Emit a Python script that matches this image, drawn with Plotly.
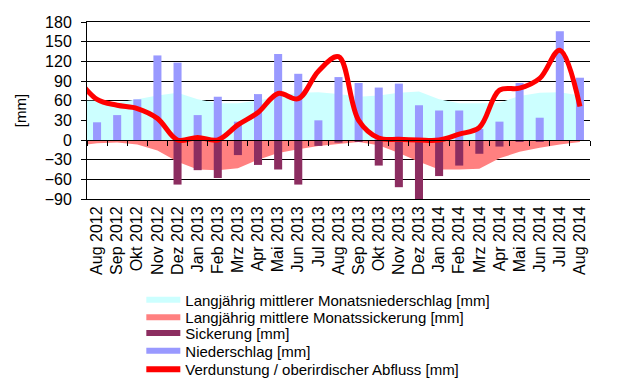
import plotly.graph_objects as go

months = ["Aug 2012", "Sep 2012", "Okt 2012", "Nov 2012", "Dez 2012", "Jan 2013",
          "Feb 2013", "Mrz 2013", "Apr 2013", "Mai 2013", "Jun 2013", "Jul 2013",
          "Aug 2013", "Sep 2013", "Okt 2013", "Nov 2013", "Dez 2013", "Jan 2014",
          "Feb 2014", "Mrz 2014", "Apr 2014", "Mai 2014", "Jun 2014", "Jul 2014",
          "Aug 2014"]

niederschlag = [27, 38, 62, 129, 118, 38, 66, 28, 70, 131, 101, 30, 96,
                87, 80, 86, 53, 45, 45, 17, 28, 87, 34, 166, 95]
sickerung = [0, 0, 0, 0, -68, -46, -58, -23, -38, -45, -68, -9, -4,
             -2, -39, -72, -90, -55, -39, -21, -10, -3, -3, 0, 0]

# series incl. the preceding month (Jul 2012), clipped at the left plot edge
lm_niederschlag = [60, 60, 57, 62, 68, 72, 62, 56, 56, 60, 67, 72, 73, 70,
                   66, 68, 72, 74, 62, 56, 56, 57, 67, 72, 73, 68]
lm_sickerung = [-9, -5, -4, -7, -16, -33, -45, -46, -43, -30, -20, -14, -9, -6,
                -3, -8, -20, -33, -45, -45, -44, -28, -18, -12, -7, -3]
verdunstung = [95, 62, 53, 48, 33, 0, 4, 0, 23, 42, 71, 63, 105, 127,
               30, 3, 1, 0, 0, 9, 19, 76, 79, 94, 137, 51]

idx = list(range(len(months)))
idx_ext = list(range(-1, len(months)))

C_CYAN = "#CCFFFF"
C_SALMON = "#FF8080"
C_DARK = "#8C2D60"
C_BLUE = "#9999FF"
C_RED = "#FF0000"

fig = go.Figure()

# base subplot: long-term areas
fig.add_trace(go.Scatter(x=idx_ext, y=lm_niederschlag, mode="none", fill="tozeroy",
                         fillcolor=C_CYAN, showlegend=False, hoverinfo="skip"))
fig.add_trace(go.Scatter(x=idx_ext, y=lm_sickerung, mode="none", fill="tozeroy",
                         fillcolor=C_SALMON, showlegend=False, hoverinfo="skip"))

# overlay subplot: bars and line
fig.add_trace(go.Bar(x=idx, y=niederschlag, marker_color=C_BLUE, width=0.4,
                     marker_line_width=0, xaxis="x2", yaxis="y2", showlegend=False))
fig.add_trace(go.Bar(x=idx, y=sickerung, marker_color=C_DARK, width=0.4,
                     marker_line_width=0, xaxis="x2", yaxis="y2", showlegend=False))
fig.add_trace(go.Scatter(x=idx_ext, y=verdunstung, mode="lines",
                         line=dict(color=C_RED, width=5, shape="spline", smoothing=1),
                         xaxis="x2", yaxis="y2", showlegend=False))

# legend entries, one legend each so rows can be spaced like the original
legend_items = [
    ("Langjährig mittlerer Monatsniederschlag [mm]", C_CYAN),
    ("Langjährig mittlere Monatssickerung [mm]", C_SALMON),
    ("Sickerung [mm]", C_DARK),
    ("Niederschlag [mm]", C_BLUE),
    ("Verdunstung / oberirdischer Abfluss [mm]", C_RED),
]
legend_rows_y = [-0.5706, -0.6701, -0.7582, -0.8588, -0.9638]

font_family = "Liberation Sans, Arial, sans-serif"
legend_layout = {}
for k, ((name, col), ly) in enumerate(zip(legend_items, legend_rows_y)):
    lname = "legend" if k == 0 else f"legend{k + 1}"
    fig.add_trace(go.Scatter(x=[None], y=[None], mode="lines", name=name,
                             line=dict(color=col, width=6), legend=lname))
    legend_layout[lname] = dict(x=0.108, y=ly, xanchor="left", yanchor="middle",
                                font=dict(size=15, family=font_family),
                                bgcolor="rgba(0,0,0,0)", itemwidth=34,
                                borderwidth=0)

xr = [-0.5, len(months) - 0.5]
yr = [-90, 180]

# page body has an 8px margin; plot area placed to match the window coordinates
fig.update_layout(
    width=632, height=378,
    margin=dict(l=79, r=50, t=14, b=187, autoexpand=False),
    paper_bgcolor="white", plot_bgcolor="white",
    font=dict(family=font_family, size=15, color="black"),
    barmode="overlay",
    xaxis=dict(range=xr, tickmode="array", tickvals=idx, ticktext=months,
               tickangle=-90, ticks="", showgrid=False, zeroline=False,
               showline=True, linecolor="black", linewidth=1, mirror=True,
               tickfont=dict(size=16), automargin=False),
    yaxis=dict(range=yr, tickmode="linear", tick0=-90, dtick=30,
               showgrid=True, gridcolor="black", gridwidth=1, zeroline=False,
               showline=True, linecolor="black", linewidth=1,
               ticks="outside", ticklen=5, tickcolor="black",
               tickfont=dict(size=16), ticklabelstandoff=6, automargin=True,
               title=dict(text="[mm]", font=dict(size=15), standoff=14)),
    xaxis2=dict(range=xr, overlaying="x", anchor="free", position=1/3,
                tickmode="array", tickvals=[i - 0.5 for i in range(len(months) + 1)],
                ticks="outside", ticklen=5, tickcolor="black", showticklabels=False,
                showgrid=False, zeroline=False, showline=True,
                linecolor="black", linewidth=1, automargin=False),
    yaxis2=dict(range=yr, overlaying="y", visible=False),
    **legend_layout,
)

fig.write_html("out.html")
